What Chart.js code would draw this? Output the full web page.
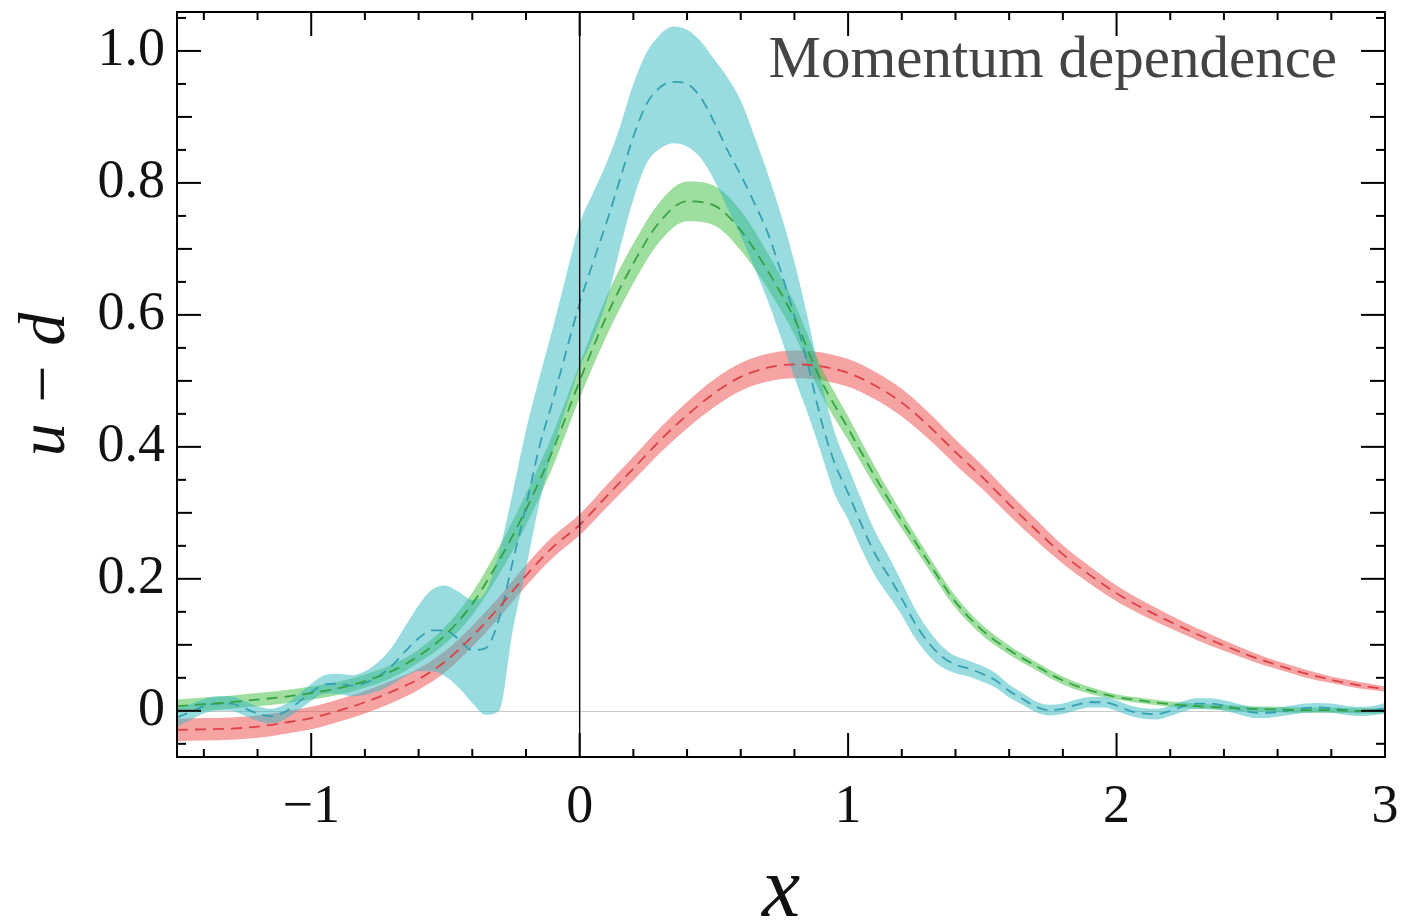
<!DOCTYPE html>
<html>
<head>
<meta charset="utf-8">
<script src="https://cdn.jsdelivr.net/npm/chart.js@4.4.1/dist/chart.umd.min.js"></script>
<style>
  html, body { margin: 0; padding: 0; background: #fff; }
  #contGrafica { width: 1402px; height: 923px; position: relative; }
</style>
</head>
<body>
<div id="contGrafica"><canvas id="grafica"></canvas></div>
<script>
// eje x para rojo y verde (paso 0.1)
const xs = [-1.5, -1.4, -1.3, -1.2, -1.1, -1.0, -0.9, -0.8, -0.7, -0.6, -0.5, -0.4, -0.3, -0.2, -0.1,
  0.0, 0.1, 0.2, 0.3, 0.4, 0.5, 0.6, 0.7, 0.8, 0.9, 1.0, 1.1, 1.2, 1.3, 1.4, 1.5, 1.6, 1.7, 1.8, 1.9,
  2.0, 2.1, 2.2, 2.3, 2.4, 2.5, 2.6, 2.7, 2.8, 2.9, 3.0];

const rojo = [-0.029, -0.028, -0.027, -0.024, -0.018, -0.011, 0.000, 0.013, 0.029, 0.048, 0.075, 0.113, 0.157, 0.205, 0.248,
  0.282, 0.325, 0.367, 0.410, 0.448, 0.481, 0.506, 0.520, 0.525, 0.522, 0.512, 0.493, 0.467, 0.432, 0.392, 0.354, 0.313, 0.274, 0.237, 0.206,
  0.178, 0.155, 0.135, 0.116, 0.099, 0.083, 0.069, 0.057, 0.047, 0.039, 0.033];
const rojoErr = [0.017, 0.017, 0.017, 0.017, 0.017, 0.017, 0.017, 0.017, 0.017, 0.016, 0.016, 0.016, 0.016, 0.016, 0.016,
  0.016, 0.017, 0.018, 0.019, 0.020, 0.021, 0.021, 0.021, 0.021, 0.021, 0.021, 0.021, 0.021, 0.020, 0.019, 0.018, 0.017, 0.016, 0.014, 0.013,
  0.012, 0.011, 0.010, 0.009, 0.008, 0.007, 0.006, 0.006, 0.005, 0.005, 0.004];

const verde = [0.007, 0.010, 0.013, 0.017, 0.021, 0.027, 0.034, 0.045, 0.060, 0.083, 0.115, 0.162, 0.228, 0.305, 0.395,
  0.500, 0.598, 0.678, 0.742, 0.772, 0.766, 0.728, 0.667, 0.594, 0.500, 0.428, 0.355, 0.288, 0.225, 0.165, 0.122, 0.092, 0.068, 0.046, 0.031,
  0.021, 0.015, 0.010, 0.007, 0.005, 0.003, 0.002, 0.001, 0.001, 0.000, 0.000];
const verdeErr = [0.010, 0.010, 0.010, 0.010, 0.010, 0.010, 0.010, 0.010, 0.010, 0.010, 0.013, 0.017, 0.021, 0.024, 0.025,
  0.026, 0.030, 0.030, 0.030, 0.030, 0.030, 0.030, 0.027, 0.024, 0.021, 0.018, 0.015, 0.012, 0.010, 0.009, 0.008, 0.007, 0.006, 0.006, 0.005,
  0.004, 0.004, 0.004, 0.004, 0.004, 0.004, 0.004, 0.004, 0.004, 0.004, 0.004];

// cian tiene oscilaciones, paso 0.05
const xsCian = [-1.50, -1.45, -1.40, -1.35, -1.30, -1.25, -1.20, -1.15, -1.10, -1.05, -1.00, -0.95, -0.90, -0.85, -0.80, -0.75,
  -0.70, -0.65, -0.60, -0.55, -0.50, -0.45, -0.40, -0.35, -0.30, -0.25, -0.20, -0.15, -0.10, -0.05, 0.00, 0.05, 0.10, 0.15,
  0.20, 0.25, 0.30, 0.35, 0.40, 0.45, 0.50, 0.55, 0.60, 0.65, 0.70, 0.75, 0.80, 0.85, 0.90, 0.95, 1.00, 1.05, 1.10, 1.15,
  1.20, 1.25, 1.30, 1.35, 1.40, 1.45, 1.50, 1.55, 1.60, 1.65, 1.70, 1.75, 1.80, 1.85, 1.90, 1.95, 2.00, 2.05, 2.10, 2.15,
  2.20, 2.25, 2.30, 2.35, 2.40, 2.45, 2.50, 2.55, 2.60, 2.65, 2.70, 2.75, 2.80, 2.85, 2.90, 2.95, 3.00];
const cian = [-0.010, -0.002, 0.007, 0.011, 0.011, 0.004, -0.004, -0.008, -0.002, 0.012, 0.028, 0.040, 0.041, 0.038, 0.042, 0.052,
  0.068, 0.090, 0.110, 0.122, 0.122, 0.108, 0.092, 0.095, 0.140, 0.225, 0.310, 0.400, 0.470, 0.545, 0.618, 0.680, 0.740, 0.805,
  0.870, 0.920, 0.945, 0.953, 0.950, 0.930, 0.893, 0.850, 0.812, 0.770, 0.725, 0.665, 0.598, 0.525, 0.440, 0.375, 0.330, 0.282, 0.238, 0.205,
  0.170, 0.132, 0.103, 0.082, 0.070, 0.064, 0.056, 0.046, 0.030, 0.018, 0.006, 0.001, 0.003, 0.009, 0.013, 0.013, 0.008, 0.000, -0.004, -0.005,
  0.000, 0.007, 0.011, 0.011, 0.008, 0.003, -0.002, -0.003, -0.002, 0.001, 0.004, 0.005, 0.004, 0.001, -0.001, 0.000, 0.004];
const cianLo = [-0.024, -0.014, -0.004, 0.000, 0.000, -0.007, -0.015, -0.019, -0.013, 0.000, 0.015, 0.026, 0.026, 0.022, 0.024, 0.030,
  0.040, 0.052, 0.060, 0.060, 0.052, 0.035, 0.012, -0.006, 0.000, 0.120, 0.215, 0.315, 0.395, 0.460, 0.520, 0.565, 0.620, 0.700,
  0.775, 0.830, 0.852, 0.860, 0.855, 0.838, 0.805, 0.762, 0.720, 0.672, 0.622, 0.565, 0.505, 0.450, 0.390, 0.328, 0.290, 0.245, 0.205, 0.175,
  0.145, 0.110, 0.084, 0.066, 0.057, 0.052, 0.044, 0.035, 0.020, 0.009, -0.002, -0.007, -0.005, 0.001, 0.005, 0.005, 0.000, -0.008, -0.012, -0.013,
  -0.008, -0.001, 0.003, 0.003, 0.000, -0.005, -0.010, -0.011, -0.009, -0.006, -0.003, -0.002, -0.003, -0.006, -0.008, -0.007, -0.004];
const cianHi = [0.004, 0.010, 0.018, 0.022, 0.022, 0.015, 0.007, 0.003, 0.009, 0.024, 0.041, 0.054, 0.056, 0.054, 0.060, 0.074,
  0.096, 0.128, 0.160, 0.184, 0.190, 0.180, 0.168, 0.180, 0.240, 0.330, 0.425, 0.505, 0.580, 0.660, 0.738, 0.785, 0.830, 0.885,
  0.950, 0.998, 1.025, 1.037, 1.032, 1.015, 0.988, 0.960, 0.925, 0.872, 0.815, 0.752, 0.680, 0.595, 0.500, 0.422, 0.370, 0.320, 0.272, 0.235,
  0.195, 0.154, 0.122, 0.098, 0.083, 0.076, 0.068, 0.057, 0.040, 0.027, 0.014, 0.009, 0.011, 0.017, 0.021, 0.021, 0.016, 0.008, 0.004, 0.003,
  0.008, 0.015, 0.019, 0.019, 0.016, 0.011, 0.006, 0.005, 0.005, 0.008, 0.011, 0.012, 0.011, 0.008, 0.006, 0.007, 0.012];

// etiquetas de los ejes
const ticksX = [-1, 0, 1, 2, 3];
const ticksY = [0, 0.2, 0.4, 0.6, 0.8, 1.0];
const titulo = 'Momentum dependence';

function puntos(x, y) {
    return x.map((v, i) => ({ x: v, y: y[i] }));
}
function banda(y, e, signo) {
    return y.map((v, i) => v + signo * e[i]);
}

function capas(xv, centro, lo, hi, colorBanda, colorLinea, orden) {
    const base = { pointRadius: 0, cubicInterpolationMode: 'monotone', borderWidth: 0, fill: false };
    return [
        { ...base, data: puntos(xv, lo), order: orden },
        { ...base, data: puntos(xv, hi), order: orden, fill: '-1', backgroundColor: colorBanda },
        { ...base, data: puntos(xv, centro), order: 0, borderWidth: 1.8, borderColor: colorLinea, borderDash: [11, 7] }
    ];
}

const datasets = [
    ...capas(xs, rojo, banda(rojo, rojoErr, -1), banda(rojo, rojoErr, 1), 'rgba(238, 72, 72, 0.5)', 'rgba(222, 60, 66, 0.95)', 3),
    ...capas(xs, verde, banda(verde, verdeErr, -1), banda(verde, verdeErr, 1), 'rgba(62, 190, 62, 0.5)', 'rgba(48, 160, 60, 0.95)', 2),
    ...capas(xsCian, cian, cianLo, cianHi, 'rgba(52, 186, 194, 0.5)', 'rgba(48, 158, 176, 0.95)', 1)
];

const cerca = (a, b) => Math.abs(a - b) < 1e-6;

// marco, ticks hacia adentro y lineas en cero
const marco = {
    id: 'marco',
    beforeDatasetsDraw(chart) {
        const { ctx, chartArea: a, scales: { y } } = chart;
        ctx.save();
        ctx.strokeStyle = '#c8c8c8';
        ctx.lineWidth = 1;
        const y0 = Math.round(y.getPixelForValue(0)) + 0.5;
        ctx.beginPath();
        ctx.moveTo(a.left, y0);
        ctx.lineTo(a.right, y0);
        ctx.stroke();
        ctx.restore();
    },
    afterDatasetsDraw(chart) {
        const { ctx, chartArea: a, scales: { x, y } } = chart;
        ctx.save();
        ctx.strokeStyle = '#000';
        const linea = (x1, y1, x2, y2) => {
            ctx.beginPath();
            ctx.moveTo(x1, y1);
            ctx.lineTo(x2, y2);
            ctx.stroke();
        };
        ctx.lineWidth = 1.4;
        const x0 = x.getPixelForValue(0);
        linea(x0, a.top, x0, a.bottom);

        ctx.lineWidth = 2;
        for (let k = Math.ceil(x.min / 0.2 - 1e-9); k * 0.2 <= x.max + 1e-9; k++) {
            const px = x.getPixelForValue(k * 0.2);
            const largo = k % 5 === 0 ? 24 : 8;
            linea(px, a.bottom, px, a.bottom - largo);
            linea(px, a.top, px, a.top + largo);
        }
        for (let k = Math.ceil(y.min / 0.05 - 1e-9); k * 0.05 <= y.max + 1e-9; k++) {
            const py = y.getPixelForValue(k * 0.05);
            const largo = k % 4 === 0 ? 24 : (k % 2 === 0 ? 15 : 9);
            linea(a.left, py, a.left + largo, py);
            linea(a.right, py, a.right - largo, py);
        }
        ctx.strokeRect(a.left, a.top, a.right - a.left, a.bottom - a.top);

        ctx.font = '59px "Liberation Serif"';
        ctx.fillStyle = '#444';
        ctx.textAlign = 'right';
        ctx.textBaseline = 'alphabetic';
        ctx.fillText(titulo, a.right - 48, a.top + 65);
        ctx.restore();
    }
};

const fuente = { family: '"Liberation Serif", serif', size: 54 };

new Chart(document.getElementById('grafica'), {
    type: 'line',
    data: { datasets: datasets },
    options: {
        responsive: true,
        maintainAspectRatio: false,
        animation: false,
        layout: { padding: { top: 12, right: 17, left: 0, bottom: 0 } },
        plugins: { legend: { display: false }, tooltip: { enabled: false } },
        scales: {
            x: {
                type: 'linear',
                min: -1.5,
                max: 3,
                grid: { display: false, drawTicks: false },
                border: { display: false },
                ticks: {
                    stepSize: 0.2,
                    autoSkip: false,
                    maxRotation: 0,
                    padding: 18,
                    color: '#111',
                    font: fuente,
                    callback: v => {
                        const t = ticksX.find(n => cerca(n, v));
                        if (t === undefined) return '';
                        return t < 0 ? '\u2212' + Math.abs(t) : String(t);
                    }
                },
                title: {
                    display: true,
                    text: 'x',
                    color: '#111',
                    font: { family: '"Liberation Serif", serif', size: 86, style: 'italic', lineHeight: 1 },
                    padding: { top: 0, bottom: -13 }
                },
                afterFit: s => {
                    s.height = 166;
                    s.paddingLeft = 0;
                    s.paddingRight = 0;
                }
            },
            y: {
                min: -0.07,
                max: 1.059,
                grid: { display: false, drawTicks: false },
                border: { display: false },
                ticks: {
                    stepSize: 0.05,
                    autoSkip: false,
                    padding: 12,
                    color: '#111',
                    font: fuente,
                    callback: v => {
                        const t = ticksY.find(n => cerca(n, v));
                        if (t === undefined) return '';
                        return t === 0 ? '0' : t.toFixed(1);
                    }
                },
                title: {
                    display: true,
                    text: 'u \u2212 d',
                    color: '#111',
                    font: { family: '"Liberation Serif", serif', size: 66, style: 'italic' },
                    padding: { top: 7, bottom: 0 }
                },
                afterFit: s => {
                    s.width = 177;
                    s.paddingTop = 0;
                    s.paddingBottom = 0;
                }
            }
        }
    },
    plugins: [marco]
});
</script>
</body>
</html>
